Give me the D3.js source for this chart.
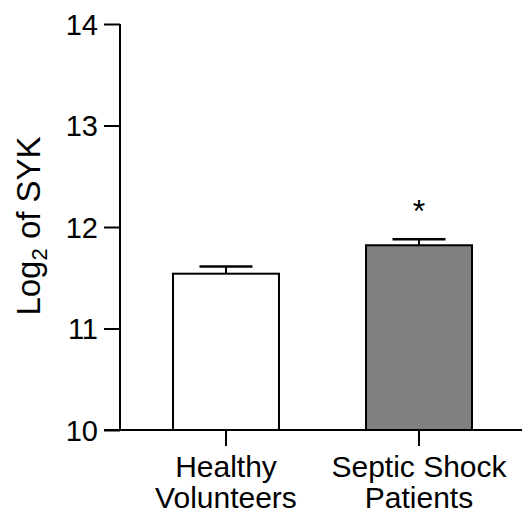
<!DOCTYPE html>
<html lang="en">
<head>
  <meta charset="utf-8">
  <title>Log2 of SYK</title>
  <script src="https://cdn.jsdelivr.net/npm/d3@7"></script>
  <style>
    body { margin: 0; background: #fff; }
    text { font-family: "Liberation Sans", Arial, sans-serif; fill: #000; }
  </style>
</head>
<body>
<script>
  // Data
  const groups = [["Healthy", "Volunteers"], ["Septic Shock", "Patients"]];
  const means = [11.54, 11.82];
  const sems = [0.07, 0.06];
  const fills = ["#ffffff", "#808080"];
  const marks = ["", "*"];
  const yTicks = [10, 11, 12, 13, 14];

  const w = 522, h = 515;
  const svg = d3.select("body").append("svg")
    .attr("width", w).attr("height", h);

  const y = d3.scaleLinear().domain([10, 14]).range([430, 24]);
  const x = d3.scaleBand()
    .domain(d3.range(groups.length))
    .range([124.75, 520.25])
    .paddingInner(0.451)
    .paddingOuter(0.25);

  // y axis
  const yAxis = svg.append("g")
    .attr("transform", "translate(120,0)")
    .call(d3.axisLeft(y).tickValues(yTicks).tickFormat(d3.format("d")).tickSize(16).tickPadding(6));
  yAxis.select(".domain").attr("d", "M0," + y(14) + "V" + y(10)).attr("stroke-width", 2);
  yAxis.selectAll(".tick line").attr("stroke-width", 2);
  yAxis.selectAll(".tick text").attr("font-size", 29).attr("dy", "0.36em");

  // bars
  svg.selectAll("rect.bar")
    .data(means)
    .enter().append("rect")
    .attr("class", "bar")
    .attr("x", (d, i) => x(i))
    .attr("width", x.bandwidth())
    .attr("y", d => y(d))
    .attr("height", d => y(10) - y(d))
    .attr("fill", (d, i) => fills[i])
    .attr("stroke", "#000")
    .attr("stroke-width", 2);

  // error bars (upper only)
  const eb = svg.selectAll("g.err")
    .data(means)
    .enter().append("g").attr("class", "err");
  eb.append("line")
    .attr("x1", (d, i) => x(i) + x.bandwidth() / 2)
    .attr("x2", (d, i) => x(i) + x.bandwidth() / 2)
    .attr("y1", d => y(d))
    .attr("y2", (d, i) => y(d + sems[i]))
    .attr("stroke", "#000").attr("stroke-width", 2);
  eb.append("line")
    .attr("x1", (d, i) => x(i) + x.bandwidth() / 4)
    .attr("x2", (d, i) => x(i) + x.bandwidth() * 3 / 4)
    .attr("y1", (d, i) => y(d + sems[i]))
    .attr("y2", (d, i) => y(d + sems[i]))
    .attr("stroke", "#000").attr("stroke-width", 2.5);

  // significance mark
  svg.selectAll("text.sig")
    .data(means)
    .enter().append("text")
    .attr("class", "sig")
    .attr("x", (d, i) => x(i) + x.bandwidth() / 2)
    .attr("y", (d, i) => y(d + sems[i]) - 17)
    .attr("text-anchor", "middle")
    .attr("font-size", 32)
    .text((d, i) => marks[i]);

  // x axis
  const xAxis = svg.append("g")
    .attr("transform", "translate(0,430)")
    .call(d3.axisBottom(x).tickSize(16).tickFormat(""));
  xAxis.select(".domain").attr("d", "M104,0H522").attr("stroke-width", 2);
  xAxis.selectAll(".tick line").attr("stroke-width", 2);

  // category labels (two lines)
  const lab = svg.selectAll("text.cat")
    .data(groups)
    .enter().append("text")
    .attr("class", "cat")
    .attr("text-anchor", "middle")
    .attr("font-size", 30);
  lab.selectAll("tspan")
    .data((d, i) => d.map(s => ({ s, i })))
    .enter().append("tspan")
    .attr("x", d => x(d.i) + x.bandwidth() / 2)
    .attr("y", (d, j) => 477 + j * 31)
    .text(d => d.s);

  // y axis title
  const yt = svg.append("text")
    .attr("transform", "translate(40,226) rotate(-90)")
    .attr("text-anchor", "middle")
    .attr("font-size", 33);
  yt.append("tspan").text("Log");
  yt.append("tspan").attr("font-size", 22).attr("dy", 7).text("2");
  yt.append("tspan").attr("dy", -7).text(" of SYK");
</script>
</body>
</html>
